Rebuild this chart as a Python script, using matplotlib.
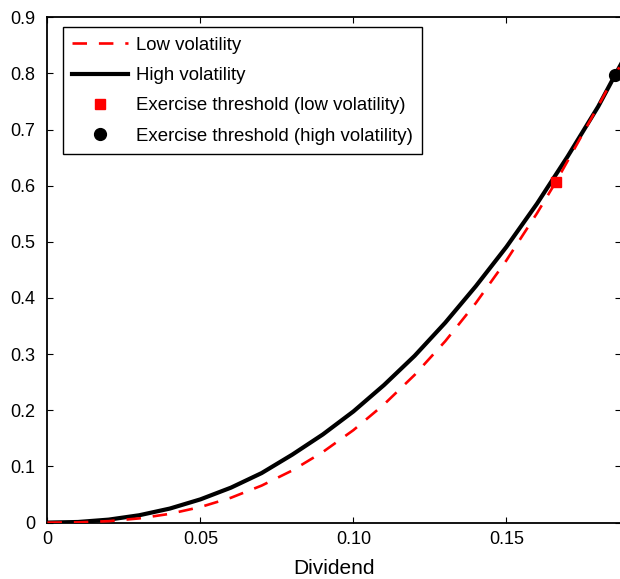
import numpy as np
import matplotlib
matplotlib.use('Agg')
import matplotlib.pyplot as plt

plt.rcParams['font.family'] = ['Liberation Sans', 'DejaVu Sans']

# values
dividend = [0.0, 0.01, 0.02, 0.03, 0.04, 0.05, 0.06, 0.07, 0.08, 0.09,
            0.10, 0.11, 0.12, 0.13, 0.14, 0.15, 0.16, 0.17, 0.18, 0.1855,
            0.19]
value_high = [0.0, 0.0011, 0.0053, 0.0131, 0.025, 0.0414, 0.0623, 0.0882,
              0.121, 0.157, 0.198, 0.245, 0.297, 0.356, 0.421, 0.491,
              0.568, 0.652, 0.741, 0.797, 0.842]

dividend_low = [0.0, 0.01, 0.02, 0.03, 0.04, 0.05, 0.06, 0.07, 0.08, 0.09,
                0.10, 0.11, 0.12, 0.13, 0.14, 0.15, 0.16, 0.1662, 0.17,
                0.18, 0.1855, 0.19]
value_low = [0.0, 0.0004, 0.0026, 0.0075, 0.0156, 0.0277, 0.0443, 0.0659,
             0.0928, 0.1257, 0.1647, 0.2105, 0.263, 0.323, 0.391, 0.467,
             0.551, 0.607, 0.644, 0.742, 0.797, 0.842]

threshold_low = (0.1662, 0.607)
threshold_high = (0.1855, 0.797)

xticks = [0, 0.05, 0.10, 0.15]
xtick_labels = ['0', '0.05', '0.10', '0.15']
yticks = [0, 0.1, 0.2, 0.3, 0.4, 0.5, 0.6, 0.7, 0.8, 0.9]
ytick_labels = ['0', '0.1', '0.2', '0.3', '0.4', '0.5', '0.6', '0.7', '0.8', '0.9']

fig = plt.figure(figsize=(6.2, 5.79), dpi=100)
ax = fig.add_axes([0.0765, 0.0974, 0.9259, 0.8729])

ax.plot(dividend_low, value_low, color='red', lw=1.9, dashes=(5.5, 4.5),
        label='Low volatility', zorder=3)
ax.plot(dividend, value_high, color='black', lw=3.0,
        label='High volatility', zorder=2)
ax.plot(*threshold_low, 's', color='red', ms=7, ls='none',
        label='Exercise threshold (low volatility)', zorder=4)
ax.plot(*threshold_high, 'o', color='black', ms=8.5, ls='none',
        label='Exercise threshold (high volatility)', zorder=4)

ax.set_xlim(0, 0.1876)
ax.set_ylim(0, 0.9)
ax.set_xticks(xticks)
ax.set_xticklabels(xtick_labels)
ax.set_yticks(yticks)
ax.set_yticklabels(ytick_labels)
ax.tick_params(direction='in', length=4.5, width=0.8, top=True, right=True,
               labelsize=13, pad=6)
ax.tick_params(axis='y', pad=9)
for sp in ax.spines.values():
    sp.set_linewidth(1.3)
ax.set_xlabel('Dividend', fontsize=15, labelpad=8)

leg = ax.legend(loc='upper left', bbox_to_anchor=(0.0267, 0.980),
                fontsize=13.4, frameon=True, fancybox=False, framealpha=1,
                edgecolor='black', handlelength=3.0, handletextpad=0.45,
                labelspacing=0.72, borderpad=0.5, borderaxespad=0)
leg.get_frame().set_linewidth(1.0)

fig.savefig('out.png', dpi=100)
